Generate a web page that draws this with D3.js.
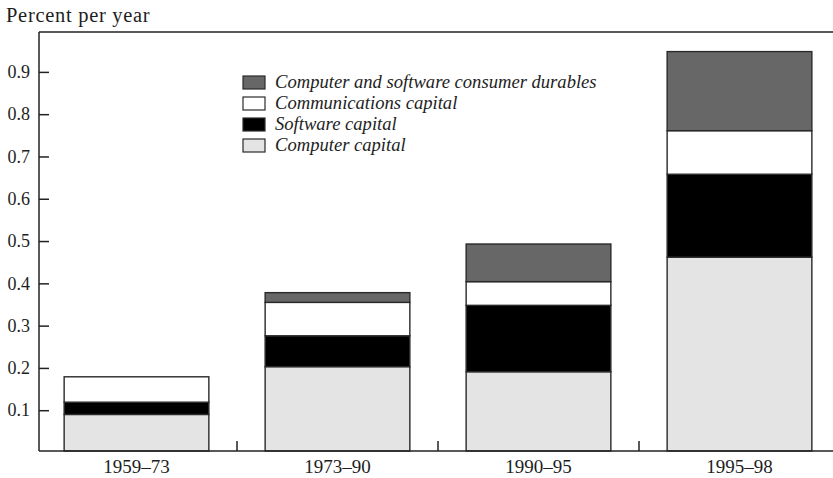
<!DOCTYPE html>
<html>
<head>
<meta charset="utf-8">
<script src="https://cdn.jsdelivr.net/npm/d3@7"></script>
<style>
  body { margin: 0; background: #fff; }
  svg text { font-family: "Liberation Serif", "Times New Roman", serif; fill: #1e1e1e; }
</style>
</head>
<body>
<script>
'use strict';

// periods on the x axis
const periods = ["1959–73", "1973–90", "1990–95", "1995–98"];

// contributions, percent per year (bottom to top)
const computerCapital = [0.09, 0.203, 0.191, 0.462];
const softwareCapital = [0.029, 0.073, 0.157, 0.196];
const communicationsCapital = [0.06, 0.079, 0.056, 0.103];
const consumerDurables = [0, 0.023, 0.089, 0.187];

// y tick labels
const yTicks = [0.1, 0.2, 0.3, 0.4, 0.5, 0.6, 0.7, 0.8, 0.9];

// series names, stacked from the bottom
const seriesNames = ["Computer capital", "Software capital", "Communications capital",
  "Computer and software consumer durables"];
const seriesColors = ["#e4e4e4", "#000000", "#ffffff", "#676767"];

(function() {
  const width = 833, height = 478;
  const left = 39, top = 32, bottom = 451, right = 833;

  const svg = d3.select('body').append('svg')
    .attr('width', width)
    .attr('height', height);

  // build rows for d3.stack
  const rows = periods.map((p, i) => ({
    period: p,
    s0: computerCapital[i],
    s1: softwareCapital[i],
    s2: communicationsCapital[i],
    s3: consumerDurables[i]
  }));
  const stacked = d3.stack().keys(["s0", "s1", "s2", "s3"])(rows);

  const x = d3.scaleBand()
    .domain(periods)
    .range([36, 840])
    .paddingInner(0.28)
    .paddingOuter(0.14);

  const y = d3.scaleLinear()
    .domain([0, 1])
    .range([452.5, 29.6]);

  // bars
  const layers = svg.append('g').selectAll('g')
    .data(stacked)
    .enter()
    .append('g')
      .attr('fill', (d, i) => seriesColors[i]);

  layers.selectAll('rect')
    .data((d) => d.filter((v) => v[1] - v[0] > 0))
    .enter()
    .append('rect')
      .attr('x', (d) => x(d.data.period))
      .attr('y', (d) => y(d[1]))
      .attr('width', x.bandwidth())
      .attr('height', (d) => Math.max(0, Math.min(y(d[0]), bottom) - y(d[1])))
      .attr('stroke', '#2a2a2a')
      .attr('stroke-width', 1.4);

  // frame: top line
  svg.append('line')
    .attr('x1', left).attr('x2', right)
    .attr('y1', top).attr('y2', top)
    .attr('stroke', '#222').attr('stroke-width', 1.5);

  // y axis, ticks pointing into the plot
  const yAxis = d3.axisLeft(y)
    .tickValues(yTicks)
    .tickFormat(d3.format('.1f'))
    .tickSizeInner(-10)
    .tickSizeOuter(0)
    .tickPadding(9);

  const gy = svg.append('g')
    .attr('transform', `translate(${left},0)`)
    .call(yAxis);
  gy.select('.domain').remove();
  gy.selectAll('line').attr('stroke', '#222').attr('stroke-width', 1.5);
  gy.selectAll('text')
    .style('font-size', '18px')
    .style('font-family', '"Liberation Serif", serif')
    .attr('fill', '#1e1e1e');

  svg.append('line')
    .attr('x1', left).attr('x2', left)
    .attr('y1', top).attr('y2', bottom)
    .attr('stroke', '#222').attr('stroke-width', 1.5);

  // x axis labels
  const xAxis = d3.axisBottom(x)
    .tickSize(0)
    .tickPadding(9);
  const gx = svg.append('g')
    .attr('transform', `translate(0,${bottom})`)
    .call(xAxis);
  gx.select('.domain').remove();
  gx.selectAll('text')
    .style('font-size', '19px')
    .style('font-family', '"Liberation Serif", serif')
    .attr('fill', '#1e1e1e');

  svg.append('line')
    .attr('x1', left).attr('x2', right)
    .attr('y1', bottom).attr('y2', bottom)
    .attr('stroke', '#222').attr('stroke-width', 1.5);

  // small separators between the periods
  const step = x.step();
  svg.append('g').selectAll('line')
    .data(periods.slice(1))
    .enter()
    .append('line')
      .attr('x1', (d) => x(d) - step * x.paddingInner() / 2)
      .attr('x2', (d) => x(d) - step * x.paddingInner() / 2)
      .attr('y1', bottom)
      .attr('y2', bottom - 10)
      .attr('stroke', '#222').attr('stroke-width', 1.5);

  // y axis title
  svg.append('text')
    .attr('x', 6)
    .attr('y', 21.5)
    .style('font-size', '20.5px')
    .style('letter-spacing', '0.7px')
    .text('Percent per year');

  // legend, top entry first
  const legendOrder = [3, 2, 1, 0];
  const legend = svg.append('g').selectAll('g')
    .data(legendOrder)
    .enter()
    .append('g')
      .attr('transform', (d, i) => `translate(243,${76 + i * 21})`);

  legend.append('rect')
    .attr('width', 22)
    .attr('height', 13)
    .attr('fill', (d) => seriesColors[d])
    .attr('stroke', '#2a2a2a')
    .attr('stroke-width', 1.2);

  legend.append('text')
    .attr('x', 32)
    .attr('y', 12)
    .style('font-size', '18.6px')
    .style('font-style', 'italic')
    .text((d) => seriesNames[d]);
})();
</script>
</body>
</html>
